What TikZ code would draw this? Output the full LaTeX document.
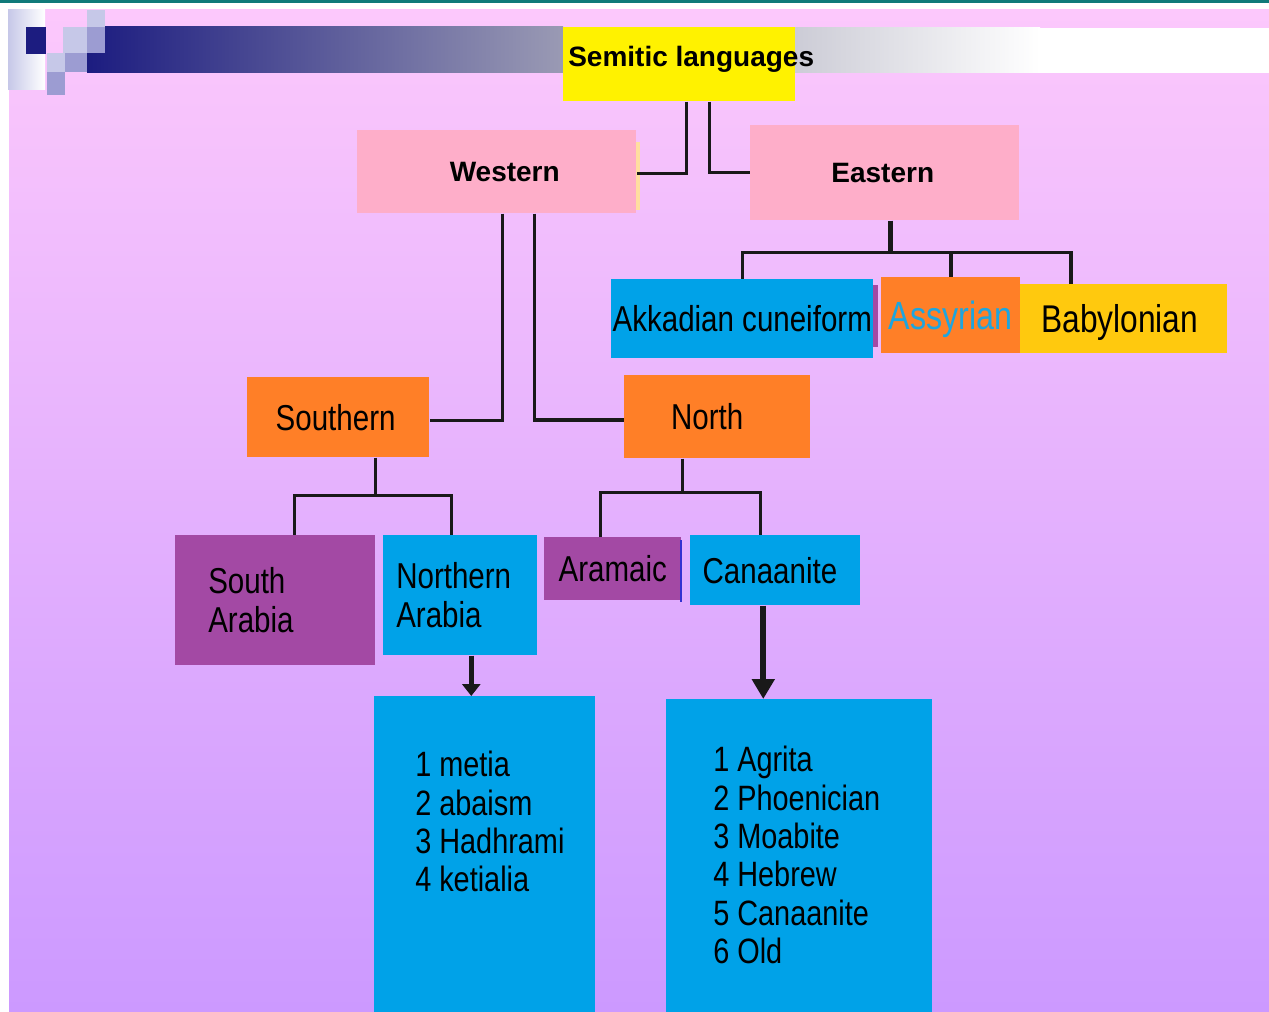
\documentclass[tikz,border=0pt]{standalone}
\usepackage{fontspec}
\setmainfont{Liberation Sans}
\newfontfamily\narrowsans[FakeStretch=0.82]{Liberation Sans}
\usetikzlibrary{arrows.meta,calc}

\definecolor{semyellow}{RGB}{255,242,0}
\definecolor{branchpink}{RGB}{254,174,201}
\definecolor{langblue}{RGB}{0,162,232}
\definecolor{langorange}{RGB}{255,127,39}
\definecolor{langgold}{RGB}{255,201,14}
\definecolor{langpurple}{RGB}{163,73,164}
\definecolor{assyriantext}{RGB}{30,165,222}
\definecolor{bgtop}{RGB}{252,200,252}
\definecolor{bgmid}{RGB}{234,182,252}
\definecolor{bgbottom}{RGB}{204,153,255}
\definecolor{rulerteal}{RGB}{16,122,122}
\definecolor{barnavy}{RGB}{28,28,128}
\definecolor{bargrey}{RGB}{154,154,180}
\definecolor{barlight}{RGB}{204,204,214}
\definecolor{pixlight}{RGB}{198,200,232}
\definecolor{pixmid}{RGB}{156,156,210}
\definecolor{edgeblue}{RGB}{50,50,210}
\definecolor{edgecream}{RGB}{255,222,160}

\begin{document}
\begin{tikzpicture}[x=0.75pt, y=-0.75pt,
    langbox/.style={rectangle, inner sep=0pt, anchor=north west, font=\narrowsans\fontsize{27}{29}\selectfont},
    onelinebox/.style={langbox, text height=19.3pt, text depth=0pt},
    branchbox/.style={langbox, fill=branchpink, text height=15pt, text depth=0pt, font=\bfseries\fontsize{21}{25}\selectfont},
    twolinebox/.style={langbox, align=left},
    boxdim/.style 2 args={minimum width=#1*0.75pt, minimum height=#2*0.75pt},
    padtext/.style 2 args={inner xsep=#1*0.75pt, text width=#2*0.75pt},
    listtext/.style={anchor=north west, inner sep=0pt, align=left, font=\narrowsans\fontsize{26.4}{28.8}\selectfont},
    link/.style={draw=black!90, line width=2.6pt},
    stem/.style={link, line width=3.6pt},
    arrowlink/.style={link, line width=3.75pt, -{Triangle[width=13.5pt, length=9pt]}}]

    % Frame
    \useasboundingbox (0,0) rectangle (1269,1012);
    \fill[white] (0,0) rectangle (1269,1012);
    \fill[rulerteal] (0,0) rectangle (1269,3);
    \shade[top color=bgtop, middle color=bgmid, bottom color=bgbottom] (9,10) rectangle (1269,1012);

    % Title bar and pixel squares
    \shade[left color=pixlight, right color=white] (8,10) rectangle (45,90);
    \shade[left color=barnavy, right color=bargrey] (87,27) rectangle (563,73);
    \shade[left color=barlight, right color=white] (795,28) rectangle (1040,73);
    \fill[white] (1040,28) rectangle (1269,73);
    \fill[barnavy] (26,27) rectangle (46,54);
    \fill[pixlight] (63,27) rectangle (87,53);
    \fill[pixlight] (87,10) rectangle (105,27);
    \fill[pixmid] (87,27) rectangle (105,53);
    \fill[pixlight] (47,53) rectangle (65,72);
    \fill[pixmid] (65,53) rectangle (87,72);
    \fill[pixmid] (47,72) rectangle (65,95);

    % Root
    \node[langbox, fill=semyellow, boxdim={232}{74}] (semitic) at (563,27) {};
    \node[anchor=base west, inner sep=0pt, font=\bfseries\fontsize{21}{25}\selectfont] (semitictext) at (568,67) {Semitic languages};

    % Branches
    \node[branchbox, boxdim={279}{83}] (western) at (357,130) {\hspace*{12pt}Western};
    \node[branchbox, boxdim={269}{95}] (eastern) at (750,125) {Eastern\hspace*{3pt}};
    \fill[edgecream] (636,142) rectangle (640,210);

    % Eastern languages
    \node[onelinebox, fill=langblue, boxdim={262}{79}] (akkadian) at (611,279) {Akkadian cuneiform};
    \fill[langpurple] (873,285) rectangle (878,347);
    \node[onelinebox, fill=langorange, text=assyriantext, boxdim={139}{76}, text height=21pt, font=\narrowsans\fontsize{29.5}{31}\selectfont] (assyrian) at (881,277) {Assyrian};
    \node[onelinebox, fill=langgold, boxdim={207}{69}, text height=20.8pt, font=\narrowsans\fontsize{29}{31}\selectfont] (babylonian) at (1020,284) {Babylonian\hspace*{6pt}};

    % Western groups
    \node[onelinebox, fill=langorange, boxdim={182}{80}] (southern) at (247,377) {Southern\hspace*{4pt}};
    \node[onelinebox, fill=langorange, boxdim={186}{83}] (northbranch) at (624,375) {North\hspace*{15pt}};

    % Southern languages
    \node[twolinebox, fill=langpurple, boxdim={200}{130}, padtext={33}{134}] (sarabia) at (175,535) {South\\Arabia};
    \node[twolinebox, fill=langblue, boxdim={154}{120}, padtext={13}{128}] (narabia) at (383,535) {Northern\\Arabia};

    % North languages
    \node[onelinebox, fill=langpurple, boxdim={137}{63}] (aramaic) at (544,537) {Aramaic};
    \fill[edgeblue] (680,540) rectangle (682,602);
    \node[onelinebox, fill=langblue, boxdim={170}{70}] (canaanite) at (690,535) {Canaanite\hspace*{8pt}};

    % Lists
    \node[langbox, fill=langblue, boxdim={221}{316}] (narabialist) at (374,696) {};
    \node[listtext] (narabiaitems) at (415,751) {1 metia\\2 abaism\\3 Hadhrami\\4 ketialia};
    \node[langbox, fill=langblue, boxdim={266}{313}] (canaanitelist) at (666,699) {};
    \node[listtext] (canaaniteitems) at (713,746) {1 Agrita\\2 Phoenician\\3 Moabite\\4 Hebrew\\5 Canaanite\\6 Old};

    % Connectors from the root
    \draw[link] ($(semitic.south)+(7,0)$) |- ($(western.east)+(0,1.5)$);
    \draw[link] ($(semitic.south)+(30,0)$) |- (eastern.west);

    % Eastern tree
    \draw[stem] ($(eastern.south)+(5.5,0)$) -- ++(0,32) coordinate (eastbar);
    \draw[link] (akkadian.north) |- (eastbar) -| ($(babylonian.north)+(-53,0)$);
    \draw[link] (assyrian.north) -- (assyrian.north |- eastbar);

    % Western tree
    \draw[link] ($(western.south)+(5.5,0)$) |- ($(southern.east)+(0,3)$);
    \draw[link] ($(western.south)+(37.5,0)$) |- ($(northbranch.west)+(0,3)$);

    % Southern tree
    \draw[link] ($(southern.south)+(37,0)$) -- ++(0,38) coordinate (southbar);
    \draw[link] ($(sarabia.north)+(19,0)$) |- (southbar) -| ($(narabia.north)+(-9,0)$);

    % North tree
    \draw[link] ($(northbranch.south)+(-35,0)$) -- ++(0,34) coordinate (northbar);
    \draw[link] ($(aramaic.north)+(-12.5,0)$) |- (northbar) -| ($(canaanite.north)+(-15,0)$);

    % Arrows to the lists
    \coordinate (nafoot) at ($(narabia.south)+(11,0)$);
    \draw[arrowlink] (nafoot) -- (nafoot |- narabialist.north);
    \coordinate (cafoot) at ($(canaanite.south)+(-12,0)$);
    \draw[arrowlink, line width=4.5pt, -{Triangle[width=16.5pt, length=15pt]}] (cafoot) -- (cafoot |- canaanitelist.north);

\end{tikzpicture}
\end{document}
